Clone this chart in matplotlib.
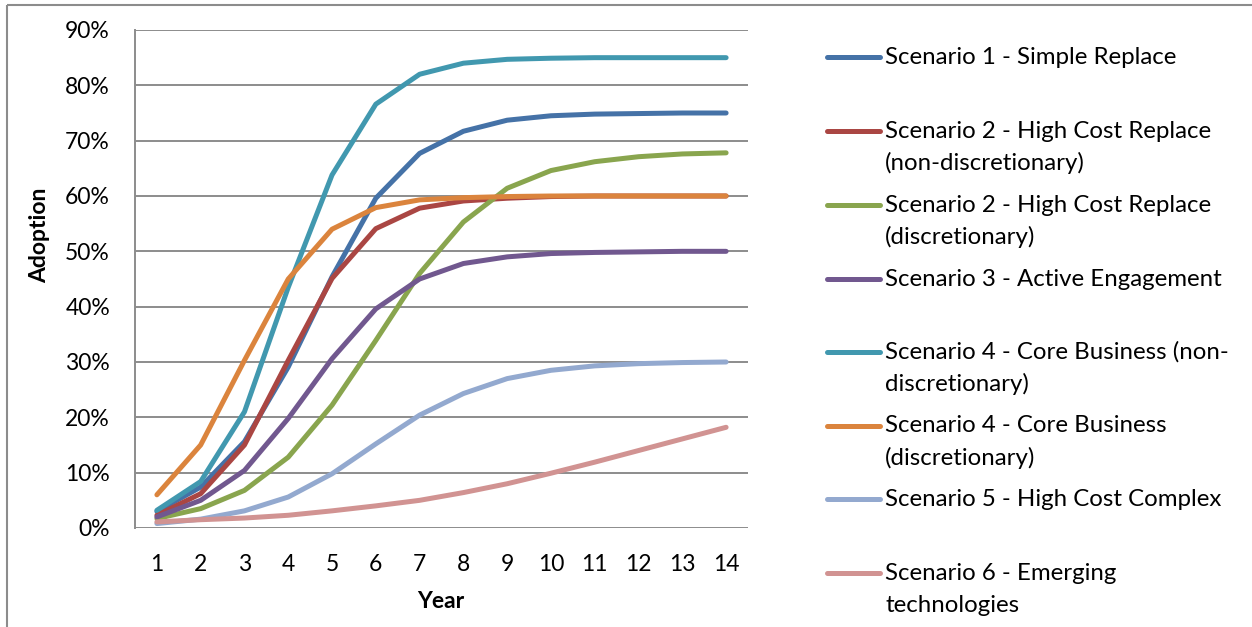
import matplotlib.pyplot as plt
from matplotlib.ticker import FuncFormatter
from matplotlib.patches import Rectangle

plt.rcParams['font.family'] = ['Lato', 'DejaVu Sans']

years = list(range(1, 15))

s1_simple = [3.0, 7.4, 15.6, 29.1, 45.4, 59.6, 67.7, 71.7, 73.7, 74.5, 74.8, 74.9, 75.0, 75.0]
s2_nondisc = [2.3, 6.2, 15.0, 30.3, 45.1, 54.1, 57.8, 59.1, 59.6, 59.9, 60.0, 60.0, 60.0, 60.0]
s2_disc = [1.7, 3.5, 6.8, 12.8, 22.2, 33.9, 46.0, 55.3, 61.4, 64.6, 66.2, 67.1, 67.6, 67.8]
s3_active = [2.0, 5.0, 10.4, 19.8, 30.6, 39.6, 45.0, 47.8, 49.0, 49.6, 49.8, 49.9, 50.0, 50.0]
s4_nondisc = [3.2, 8.4, 21.0, 43.5, 63.8, 76.6, 82.0, 84.0, 84.7, 84.9, 85.0, 85.0, 85.0, 85.0]
s4_disc = [6.0, 15.0, 30.3, 45.0, 54.0, 57.9, 59.3, 59.7, 59.9, 60.0, 60.0, 60.0, 60.0, 60.0]
s5_complex = [0.8, 1.6, 3.1, 5.6, 9.8, 15.2, 20.4, 24.3, 27.0, 28.5, 29.3, 29.7, 29.9, 30.0]
s6_emerging = [1.1, 1.5, 1.8, 2.3, 3.1, 4.0, 5.0, 6.4, 8.0, 9.9, 11.9, 14.0, 16.1, 18.2]

series = [s1_simple, s2_nondisc, s2_disc, s3_active, s4_nondisc, s4_disc, s5_complex, s6_emerging]
labels = [
    ["Scenario 1 - Simple Replace"],
    ["Scenario 2 - High Cost Replace", "(non-discretionary)"],
    ["Scenario 2 - High Cost Replace", "(discretionary)"],
    ["Scenario 3 - Active Engagement"],
    ["Scenario 4 - Core Business (non-", "discretionary)"],
    ["Scenario 4 - Core Business", "(discretionary)"],
    ["Scenario 5 - High Cost Complex"],
    ["Scenario 6 - Emerging", "technologies"],
]
colors = ['#4572A7', '#AA4643', '#89A54E', '#71588F', '#4198AF', '#DB843D', '#93A9CF', '#D19392']

W, H = 1252, 627
fig = plt.figure(figsize=(W / 100, H / 100), dpi=100)

# pixel-space overlay for frame, axis titles and legend
over = fig.add_axes([0, 0, 1, 1])
over.set_xlim(0, W)
over.set_ylim(H, 0)
over.axis('off')
over.add_patch(Rectangle((7, 5), W + 20, H + 20, fill=False, ec='#8c8c8c', lw=1.5))

left, right, top, bottom = 135, 748, 30, 528
ax = fig.add_axes([left / W, (H - bottom) / H, (right - left) / W, (bottom - top) / H])

grid_c = '#8c8c8c'
for i, vals in enumerate(series):
    ax.plot(years, [v / 100 for v in vals], color=colors[i], lw=3.6,
            solid_capstyle='round', solid_joinstyle='round', zorder=3)

ax.set_xlim(0.5, 14.5)
ax.set_ylim(0, 0.9)
ax.set_xticks(years)
ax.set_yticks([i / 10 for i in range(10)])
ax.yaxis.set_major_formatter(FuncFormatter(lambda v, p: f"{v * 100:.0f}%"))
ax.grid(axis='y', color=grid_c, lw=1.4)
ax.set_axisbelow(True)
for side in ['top', 'right', 'bottom']:
    ax.spines[side].set_visible(False)
ax.spines['left'].set_color(grid_c)
ax.spines['left'].set_linewidth(1.4)
ax.tick_params(length=0, labelsize=16.5, colors='black')
ax.tick_params(axis='y', pad=18)
ax.tick_params(axis='x', pad=19)

over.text(441, 602, 'Year', fontsize=16.5, fontweight='bold', ha='center', va='center')
over.text(40, 235, 'Adoption', fontsize=16.5, fontweight='bold', ha='center', va='center',
          rotation=90)

# legend drawn by hand: handle next to first line of each label
entry_y = [57, 131, 205, 279, 352, 426, 499, 573]
for i, y in enumerate(entry_y):
    over.plot([827, 880], [y, y], color=colors[i], lw=3.6, solid_capstyle='round')
    for j, line in enumerate(labels[i]):
        over.text(885, y + 32 * j, line, fontsize=17.3, va='center', ha='left')

fig.savefig('out.png', dpi=100)
